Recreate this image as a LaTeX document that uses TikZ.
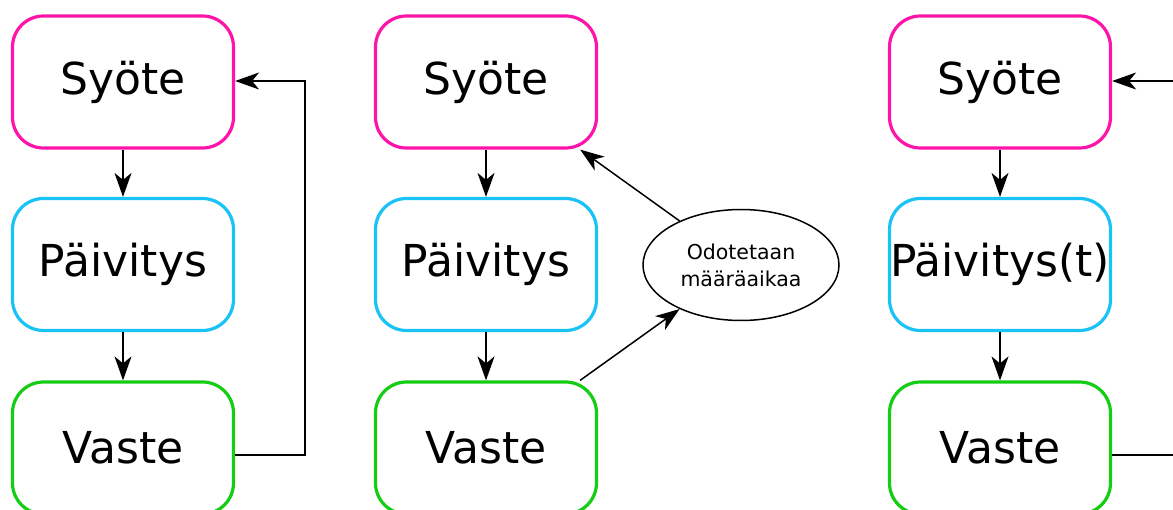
\documentclass[tikz,border=0pt]{standalone}
\usepackage{fontspec}
\setmainfont{DejaVu Sans}
\usetikzlibrary{arrows.meta,shapes.geometric,calc}
\definecolor{inputcol}{RGB}{255,20,170}
\definecolor{updatecol}{RGB}{25,195,245}
\definecolor{outputcol}{RGB}{20,205,20}
\tikzset{
  stagebox/.style={draw, rectangle, rounded corners=31pt, line width=3.2pt,
    minimum width=221pt, minimum height=132pt, inner sep=0pt,
    font=\fontsize{44}{50}\selectfont},
  inbox/.style={stagebox, draw=inputcol},
  updbox/.style={stagebox, draw=updatecol},
  outbox/.style={stagebox, draw=outputcol},
  flow/.style={line width=1.5pt, -{Stealth[length=24pt,width=17pt,inset=7pt]}},
  plain/.style={line width=1.5pt},
  waitnode/.style={draw, ellipse, line width=1.5pt, minimum width=196pt,
    minimum height=111pt, inner sep=0pt, align=center,
    font=\fontsize{20.5}{27}\selectfont}
}
\begin{document}
\begin{tikzpicture}[x=1pt,y=-1pt]
\useasboundingbox (0,0) rectangle (1173,510);

% left column: closed loop
\node[inbox]  (s1) at (123,82)  {Syöte};
\node[updbox] (p1) at (123,264.5) {Päivitys};
\node[outbox] (v1) at (123,448) {Vaste};
\draw[flow] (s1) -- (p1);
\draw[flow] (p1) -- (v1);
\coordinate (l1a) at (305,455);
\coordinate (l1b) at (305,81);
\draw[flow] ($(v1.east)+(0,7)$) -- (l1a) -- (l1b) -- ($(s1.east)+(0,-1)$);

% middle column: loop through a fixed wait
\node[inbox]  (s2) at (486,82)  {Syöte};
\node[updbox] (p2) at (486,264.5) {Päivitys};
\node[outbox] (v2) at (486,448) {Vaste};
\node[waitnode] (w) at (741,265) {Odotetaan\\määräaikaa};
\draw[flow] (s2) -- (p2);
\draw[flow] (p2) -- (v2);
\draw[flow] (v2) -- (w);
\draw[flow] (w) -- (s2);

% right column: time-dependent update
\node[inbox]  (s3) at (1000,82)  {Syöte};
\node[updbox] (p3) at (1000,264.5) {Päivitys(t)};
\node[outbox] (v3) at (1000,448) {Vaste};
\draw[flow] (s3) -- (p3);
\draw[flow] (p3) -- (v3);
\coordinate (r3in) at (1175,81);
\coordinate (r3out) at (1175,455);
\draw[flow] (r3in) -- ($(s3.east)+(0,-1)$);
\draw[plain] ($(v3.east)+(0,7)$) -- (r3out);
\end{tikzpicture}
\end{document}
